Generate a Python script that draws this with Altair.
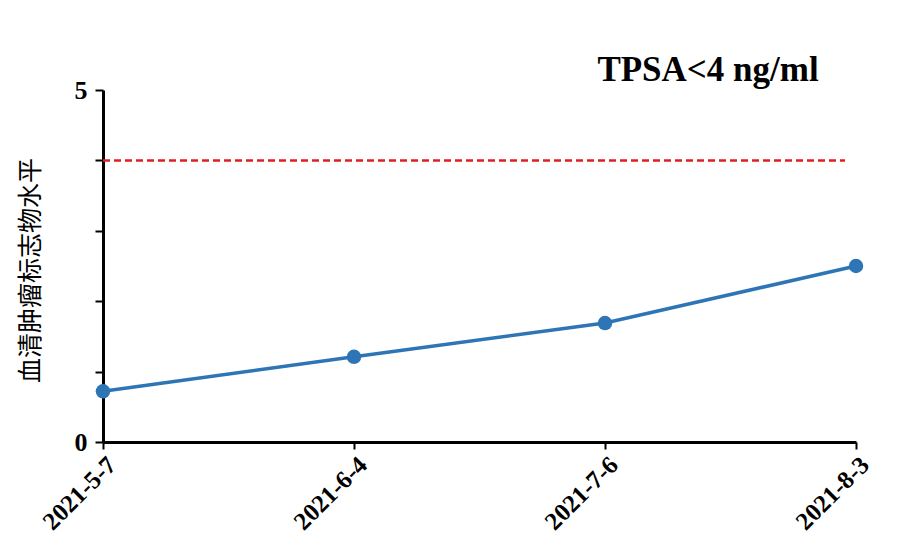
import altair as alt
import pandas as pd

dates = ["2021-5-7", "2021-6-4", "2021-7-6", "2021-8-3"]
values = [0.72, 1.21, 1.69, 2.50]
ref_value = [4]
title_text = ["TPSA<4 ng/ml"]
y_title = "血清肿瘤标志物水平"

df = pd.DataFrame({"date": dates, "value": values})
ref_df = pd.DataFrame({"ref": ref_value})
title_df = pd.DataFrame({"t": title_text})

W, H = 753, 352
serif = "Liberation Serif"

x_axis = alt.Axis(title=None, labelAngle=-45, labelFont=serif, labelFontWeight="bold",
                  labelFontSize=25, labelColor="black", labelPadding=3,
                  domainColor="black", domainWidth=3, tickColor="black",
                  tickWidth=2, tickSize=7, grid=False)
y_axis = alt.Axis(title=y_title, values=[0, 1, 2, 3, 4, 5], format="d",
                  labelExpr="datum.value == 0 || datum.value == 5 ? datum.label : ''",
                  labelFont=serif, labelFontWeight="bold", labelFontSize=26,
                  labelColor="black", labelPadding=8,
                  titleFont="Noto Sans CJK SC", titleFontWeight="normal",
                  titleFontSize=25, titleColor="black", titleAngle=-90,
                  titleX=-73, titleY=H / 2 + 4, titleAlign="center", titleBaseline="middle",
                  domainColor="black", domainWidth=3, tickColor="black",
                  tickWidth=2, tickSize=8, grid=False)
x_scale = alt.Scale(type="point", padding=0)
y_scale = alt.Scale(domain=[0, 5], nice=False)

line = alt.Chart(df).mark_line(color="#2e75b6", strokeWidth=3.5).encode(
    x=alt.X("date:N", sort=dates, scale=x_scale, axis=x_axis),
    y=alt.Y("value:Q", scale=y_scale, axis=y_axis))
pts = alt.Chart(df).mark_point(filled=True, color="#2e75b6", size=210, opacity=1).encode(
    x=alt.X("date:N", sort=dates, scale=x_scale, axis=x_axis),
    y=alt.Y("value:Q", scale=y_scale, axis=y_axis))
rule = alt.Chart(ref_df).mark_rule(color="#e02020", strokeWidth=2.5, strokeDash=[7, 4]).encode(
    y=alt.Y("ref:Q", scale=y_scale, axis=y_axis), x=alt.value(0), x2=alt.value(742))
title = alt.Chart(title_df).mark_text(font=serif, fontWeight="bold", fontSize=35, color="black",
                                      align="center", baseline="middle").encode(
    text="t:N", x=alt.value(605), y=alt.value(-20))

chart = alt.layer(rule, line, pts, title).properties(
    width=W, height=H,
    background="white",
    autosize=alt.AutoSizeParams(type="none"),
    padding={"left": 95, "top": 82, "right": 40, "bottom": 92},
).configure_view(strokeWidth=0, stroke="transparent")

chart.save("out.html", embed_options={"renderer": "svg", "actions": False})
